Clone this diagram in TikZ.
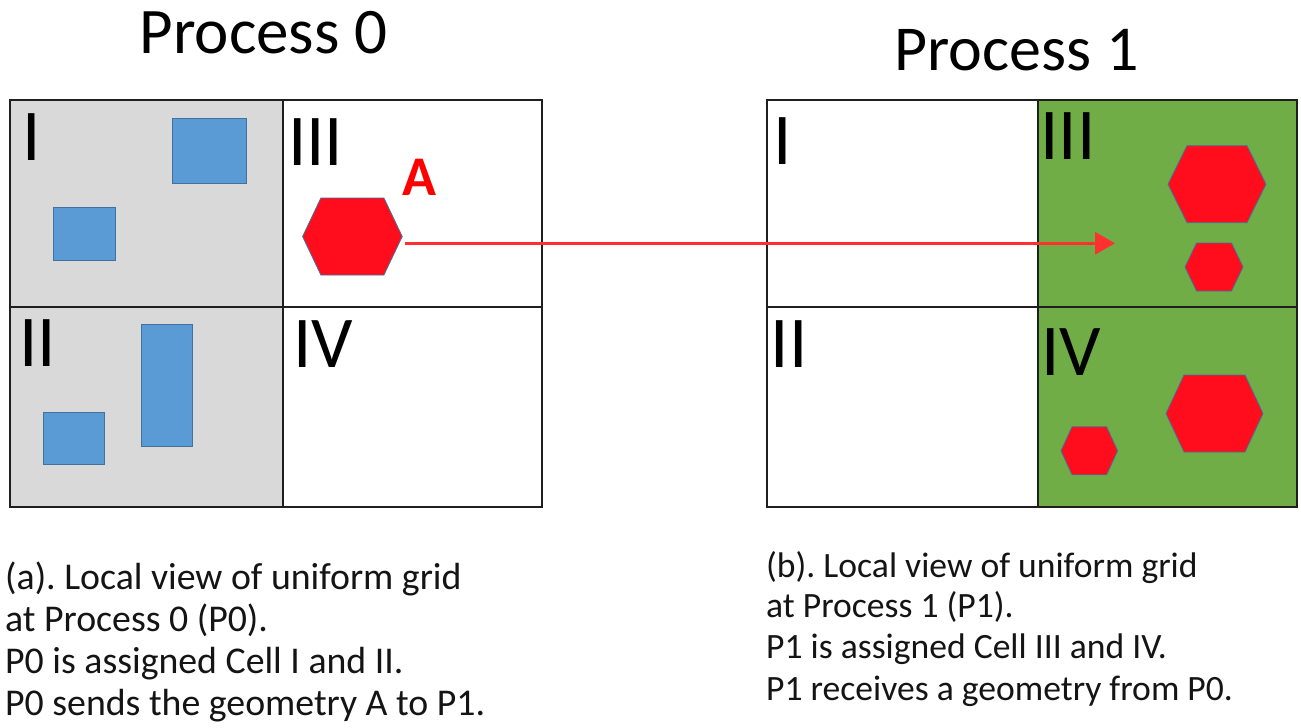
\documentclass[tikz,border=0pt]{standalone}
\usepackage{fontspec}
\setmainfont{Carlito}
\usetikzlibrary{arrows.meta}
\frenchspacing
\definecolor{cellgray}{HTML}{D9D9D9}
\definecolor{cellgreen}{HTML}{70AD47}
\definecolor{geoblue}{HTML}{5B9BD5}
\definecolor{geoedge}{HTML}{41719C}
\definecolor{geored}{HTML}{FF0D1D}
\definecolor{arrowred}{HTML}{FF3030}
\newcommand{\hexshape}[5]{\draw[hexsty,shift={(#1,#2)}] (-#3,0) -- (-#5,-#4) -- (#5,-#4) -- (#3,0) -- (#5,#4) -- (-#5,#4) -- cycle;}
\begin{document}
\begin{tikzpicture}[x=1pt,y=-1pt,
  gridline/.style={draw=black!88,line width=2pt},
  blockbox/.style={fill=geoblue,draw=geoedge,line width=1pt},
  hexsty/.style={fill=geored,draw=geoedge,line width=0.8pt,line join=miter},
  title/.style={font=\fontsize{65}{70}\selectfont,anchor=base,inner sep=0pt},
  cellnum/.style={font=\fontsize{73}{80}\selectfont,anchor=base west,inner sep=0pt},
  captiona/.style={font=\fontsize{37.8}{42}\selectfont,anchor=base west,inner sep=0pt,text=black!92},
  captionb/.style={font=\fontsize{35.6}{42}\selectfont,anchor=base west,inner sep=0pt,text=black!92},
  sendarrow/.style={draw=arrowred,line width=3pt,-{Triangle[length=20pt,width=22pt]}}]
\useasboundingbox (0,0) rectangle (1301,728);
\fill[white] (0,0) rectangle (1301,728);
% titles
\node[title] (t0) at (263.5,53.5) {Process 0};
\node[title,font=\fontsize{64}{70}\selectfont] (t1) at (1016.5,70) {Process 1};
% left grid
\fill[cellgray] (10,100) rectangle (283,507);
\draw[gridline] (10,100) rectangle (542,507);
\draw[gridline] (283,100) -- (283,507);
\draw[gridline] (10,307) -- (542,307);
% blue blocks
\draw[blockbox] (172.5,118.5) rectangle (246.5,183.5);
\draw[blockbox] (53.5,207.5) rectangle (115,260);
\draw[blockbox] (141.5,324.5) rectangle (192.5,446);
\draw[blockbox] (43,412) rectangle (104.5,464.5);
% hexagon A
\hexshape{352.4}{236.5}{49.8}{38.5}{31.5}
\node[font=\fontsize{56}{60}\selectfont\bfseries,text=red,anchor=base,inner sep=0pt] (lblA) at (419,195) {A};
% roman numerals left
\node[cellnum] (l1) at (22,160) {I};
\node[cellnum] (l3) at (288,165) {III};
\node[cellnum] (l2) at (19,366) {II};
\node[cellnum] (l4) at (293,367) {IV};
% right grid
\fill[cellgreen] (1038,100) rectangle (1297,507);
\draw[gridline] (767,100) rectangle (1297,507);
\draw[gridline] (1038,100) -- (1038,507);
\draw[gridline] (767,307) -- (1297,307);
\node[cellnum] (r1) at (773,164) {I};
\node[cellnum] (r3) at (1040,159.5) {III};
\node[cellnum] (r2) at (770.5,367) {II};
\node[cellnum] (r4) at (1041,375.5) {IV};
% hexagons right
\hexshape{1217}{184.2}{49}{38.5}{30}
\hexshape{1214}{267}{29}{24}{17.5}
\hexshape{1214.5}{413.5}{48.5}{38.5}{30.5}
\hexshape{1089.3}{450.8}{28.3}{24}{17.3}
% arrow
\coordinate (Aout) at (405,243.3);
\coordinate (Ain) at (1115,243.3);
\draw[sendarrow] (Aout) -- (Ain);
% captions
\node[captiona] (ca1) at (5,589.5) {(a). Local view of uniform grid};
\node[captiona] (ca2) at (5,631) {at Process 0 (P0).};
\node[captiona] (ca3) at (5,673.5) {P0 is assigned Cell I and II.};
\node[captiona] (ca4) at (5,715.5) {P0 sends the geometry A to P1.};
\node[captionb] (cb1) at (766,577.5) {(b). Local view of uniform grid};
\node[captionb] (cb2) at (766,617.5) {at Process 1 (P1).};
\node[captionb] (cb3) at (766,658.5) {P1 is assigned Cell III and IV.};
\node[captionb] (cb4) at (766,700) {P1 receives a geometry from P0.};
\end{tikzpicture}
\end{document}
